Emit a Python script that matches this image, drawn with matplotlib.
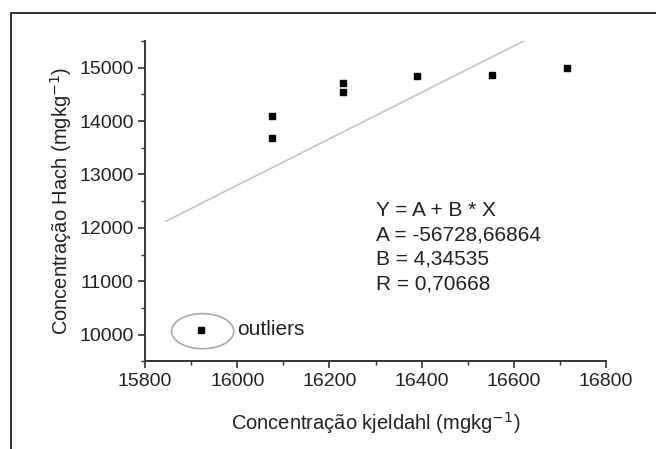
import matplotlib
matplotlib.use("Agg")
import matplotlib.pyplot as plt
from matplotlib.patches import Ellipse, Rectangle
from matplotlib.ticker import MultipleLocator

plt.rcParams['font.family'] = ['Liberation Sans', 'DejaVu Sans']

# data
kjeldahl = [16075, 16075, 16230, 16230, 16389, 16552, 16716]
hach = [14100, 13675, 14707, 14550, 14850, 14863, 14994]
outlier_x = [15921]
outlier_y = [10080]

# linear fit shown in the chart
fit_a = -56728.66864
fit_b = 4.34535
fit_r = 0.70668
fit_x = [15845, 16622]

fig = plt.figure(figsize=(6.56, 4.49), dpi=100)
ax = fig.add_axes([0.221, 0.195, 0.703, 0.714])

# outer frame of the figure
fig.patches.append(Rectangle((11 / 656, -0.1), 1.2, (449 - 13) / 449 + 0.1,
                             transform=fig.transFigure, fill=False,
                             edgecolor='#222222', linewidth=1.3))

ax.plot(kjeldahl, hach, 's', color='black', markersize=5)
ax.plot(outlier_x, outlier_y, 's', color='black', markersize=4)

line_y = [fit_a + fit_b * x for x in fit_x]
ax.plot(fit_x, line_y, color='#c4c4c4', linewidth=1.2)

ax.add_patch(Ellipse((15925, 10066), 135, 657,
                     fill=False, edgecolor='#aaaaaa', linewidth=1.2))
ax.text(15999, 10090, 'outliers', fontsize=15, va='center', ha='left',
        color='#222222')

txt = ("Y = A + B * X\n"
       f"A = {fit_a:.5f}".replace('.', ',') + "\n"
       f"B = {fit_b:.5f}".replace('.', ',') + "\n"
       f"R = {fit_r:.5f}".replace('.', ','))
ax.text(16302, 12500, txt, fontsize=15, va='top', ha='left',
        linespacing=1.36, color='#222222')

ax.set_xlim(15800, 16800)
ax.set_ylim(9500, 15500)
ax.xaxis.set_major_locator(MultipleLocator(200))
ax.xaxis.set_minor_locator(MultipleLocator(100))
ax.yaxis.set_major_locator(MultipleLocator(1000))
ax.yaxis.set_minor_locator(MultipleLocator(500))

for s in ['top', 'right']:
    ax.spines[s].set_visible(False)
for s in ['left', 'bottom']:
    ax.spines[s].set_linewidth(1.4)
    ax.spines[s].set_color('#333333')

ax.tick_params(which='major', length=5, width=1.2, color='#333333',
               labelsize=14, labelcolor='#222222', pad=3)
ax.tick_params(which='minor', length=3, width=1.0, color='#333333')

ax.set_xlabel('Concentração kjeldahl (mgkg$^{-1}$)', fontsize=14.5,
              color='#222222', labelpad=15)
ax.set_ylabel('Concentração Hach (mgkg$^{-1}$)', fontsize=14.5,
              color='#222222', labelpad=4)

fig.savefig('out.png', dpi=100)
